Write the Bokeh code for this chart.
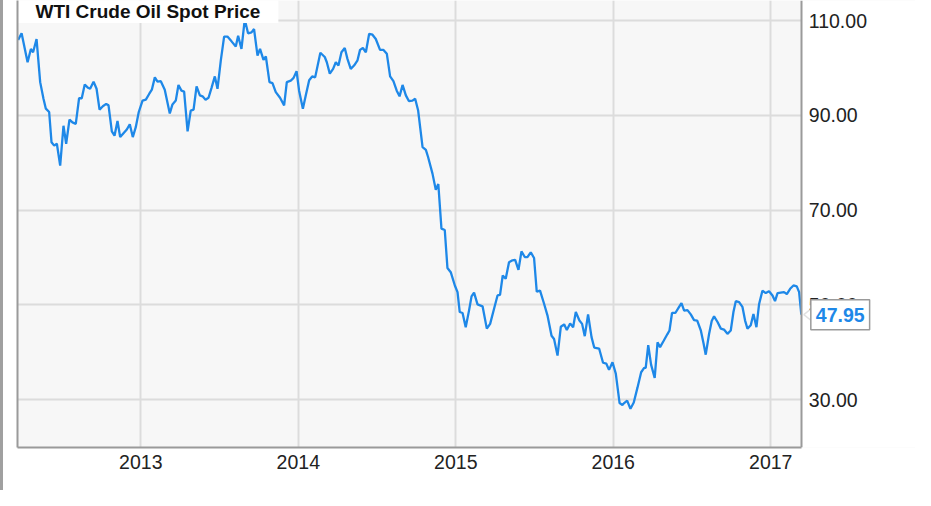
from bokeh.plotting import figure
from bokeh.models import (Range1d, LinearAxis, FixedTicker, NumeralTickFormatter, Label,
                          BoxAnnotation, PolyAnnotation)
from bokeh.embed import file_html
from bokeh.resources import INLINE

# Weekly WTI crude oil spot price (USD/bbl); x as decimal year
years = [
    2012.221, 2012.243, 2012.281, 2012.302, 2012.316, 2012.338, 2012.361, 2012.382, 2012.397, 2012.418,
    2012.433, 2012.450, 2012.467, 2012.488, 2012.509, 2012.526, 2012.547, 2012.566, 2012.587, 2012.608,
    2012.625, 2012.644, 2012.665, 2012.678, 2012.700, 2012.719, 2012.738, 2012.759, 2012.780, 2012.795,
    2012.816, 2012.833, 2012.852, 2012.869, 2012.890, 2012.911, 2012.930, 2012.949, 2012.968, 2012.987,
    2013.011, 2013.032, 2013.053, 2013.070, 2013.089, 2013.106, 2013.127, 2013.152, 2013.184, 2013.201,
    2013.222, 2013.239, 2013.258, 2013.275, 2013.297, 2013.317, 2013.335, 2013.354, 2013.375, 2013.392,
    2013.411, 2013.430, 2013.449, 2013.470, 2013.487, 2013.508, 2013.529, 2013.550, 2013.576, 2013.603,
    2013.618, 2013.639, 2013.660, 2013.681, 2013.703, 2013.719, 2013.741, 2013.757, 2013.779, 2013.794,
    2013.817, 2013.836, 2013.857, 2013.884, 2013.910, 2013.927, 2013.952, 2013.970, 2013.989, 2014.005,
    2014.029, 2014.048, 2014.069, 2014.088, 2014.107, 2014.140, 2014.168, 2014.181, 2014.200, 2014.221,
    2014.238, 2014.255, 2014.274, 2014.295, 2014.312, 2014.333, 2014.354, 2014.376, 2014.392, 2014.410,
    2014.429, 2014.450, 2014.471, 2014.492, 2014.519, 2014.541, 2014.562, 2014.583, 2014.604, 2014.625,
    2014.643, 2014.662, 2014.683, 2014.702, 2014.725, 2014.742, 2014.761, 2014.789, 2014.810, 2014.824,
    2014.852, 2014.873, 2014.889, 2014.909, 2014.930, 2014.947, 2014.968, 2014.994, 2015.011, 2015.025,
    2015.043, 2015.063, 2015.084, 2015.100, 2015.116, 2015.138, 2015.170, 2015.197, 2015.218, 2015.243,
    2015.265, 2015.281, 2015.298, 2015.317, 2015.338, 2015.360, 2015.377, 2015.398, 2015.417, 2015.438,
    2015.455, 2015.476, 2015.497, 2015.514, 2015.535, 2015.561, 2015.582, 2015.608, 2015.624, 2015.646,
    2015.667, 2015.688, 2015.705, 2015.726, 2015.745, 2015.762, 2015.785, 2015.802, 2015.819, 2015.840,
    2015.862, 2015.879, 2015.910, 2015.935, 2015.956, 2015.973, 2015.995, 2016.016, 2016.040, 2016.058,
    2016.069, 2016.088, 2016.109, 2016.130, 2016.154, 2016.177, 2016.196, 2016.206, 2016.222, 2016.240,
    2016.263, 2016.281, 2016.297, 2016.321, 2016.343, 2016.357, 2016.373, 2016.394, 2016.416, 2016.433,
    2016.450, 2016.471, 2016.492, 2016.513, 2016.533, 2016.556, 2016.573, 2016.587, 2016.608, 2016.625,
    2016.640, 2016.662, 2016.683, 2016.703, 2016.725, 2016.746, 2016.763, 2016.778, 2016.799, 2016.820,
    2016.837, 2016.852, 2016.873, 2016.890, 2016.909, 2016.926, 2016.947, 2016.968, 2016.989, 2017.011,
    2017.027, 2017.043, 2017.063, 2017.084, 2017.102, 2017.123, 2017.144, 2017.165, 2017.180, 2017.194,
]
price = [
    105.9, 107.3, 101.2, 104.0, 103.3, 106.1, 97.0, 93.5, 91.4, 90.7,
    84.3, 83.6, 84.0, 79.4, 87.8, 84.0, 89.1, 88.5, 88.2, 93.6,
    93.6, 96.5, 95.8, 95.6, 97.1, 95.6, 91.2, 91.9, 92.4, 92.1,
    86.6, 85.7, 88.8, 85.4, 86.2, 87.0, 88.1, 85.4, 87.5, 90.7,
    93.1, 93.3, 94.5, 95.4, 98.0, 97.1, 97.2, 95.4, 90.4, 92.3,
    93.1, 96.4, 95.2, 95.0, 86.6, 91.0, 91.2, 96.1, 94.2, 94.0,
    93.3, 93.7, 95.8, 98.2, 95.6, 101.6, 106.6, 106.6, 105.6, 104.5,
    106.8, 104.0, 110.2, 107.3, 107.5, 108.2, 102.6, 104.0, 101.7, 102.4,
    97.0, 96.8, 94.9, 93.7, 92.1, 97.0, 97.3, 97.9, 99.3, 95.2,
    91.4, 94.3, 97.4, 98.2, 98.0, 103.2, 102.3, 101.2, 98.8, 99.8,
    101.2, 100.5, 103.3, 104.2, 101.9, 99.8, 100.5, 101.6, 103.8, 104.2,
    103.3, 107.2, 107.0, 106.1, 103.8, 103.8, 103.0, 98.2, 97.2, 95.2,
    94.0, 96.4, 94.2, 93.0, 93.1, 93.5, 91.0, 83.3, 82.7, 81.2,
    77.7, 74.3, 75.5, 66.1, 65.8, 57.8, 56.9, 54.1, 52.7, 48.5,
    48.3, 45.3, 48.8, 51.8, 52.6, 50.1, 49.7, 45.0, 46.0, 49.2,
    52.0, 52.1, 56.2, 55.5, 59.0, 59.4, 59.5, 57.4, 61.3, 60.1,
    60.1, 61.1, 59.9, 52.8, 53.0, 50.2, 47.8, 43.5, 42.8, 39.3,
    45.4, 45.9, 44.7, 46.1, 45.3, 48.5, 46.7, 46.0, 43.4, 48.0,
    43.2, 41.0, 40.8, 37.8, 37.6, 36.3, 37.9, 35.5, 29.3, 28.9,
    29.3, 29.8, 28.1, 29.4, 32.6, 35.8, 36.7, 36.7, 41.5, 37.4,
    34.6, 42.1, 41.1, 42.5, 43.8, 44.6, 48.3, 48.3, 49.5, 50.4,
    48.8, 48.9, 48.0, 46.8, 46.7, 44.6, 41.9, 39.5, 43.8, 46.6,
    47.6, 46.4, 45.0, 44.8, 43.9, 44.6, 48.5, 50.8, 50.6, 49.6,
    46.7, 45.0, 45.7, 48.1, 45.3, 50.2, 53.0, 52.5, 52.9, 52.0,
    50.8, 52.5, 52.6, 52.7, 52.3, 53.4, 54.1, 53.9, 52.7, 47.95,
]
year_ticks = [2013, 2014, 2015, 2016, 2017]
year_labels = ["2013", "2014", "2015", "2016", "2017"]
price_ticks = [30, 50, 70, 90, 110]
title_text = "WTI Crude Oil Spot Price"

LINE = "#1e88e8"
FONT = "Liberation Sans"
BORDER = "#9a9a9a"

X0, X_END, X_VIEW = 2012.217, 2017.197, 2017.919   # data start, plot-area end, view end
Y0, Y1 = 19.92, 114.22

p = figure(width=915, height=490, output_backend="svg", toolbar_location=None,
           x_range=Range1d(X0, X_VIEW), y_range=Range1d(Y0, Y1),
           y_axis_location=None, min_border_left=17, min_border_right=0,
           min_border_top=0, min_border_bottom=43,
           styles={"background-color": "white", "box-shadow": "inset 3px 0 0 #a0a0a0"})
p.background_fill_color = "#f7f7f7"
p.border_fill_color = None
p.outline_line_color = None

# gridlines
p.xgrid.ticker = FixedTicker(ticks=year_ticks)
p.ygrid.ticker = FixedTicker(ticks=price_ticks)
for g in (p.xgrid[0], p.ygrid[0]):
    g.grid_line_color = "#dcdcdc"
    g.grid_line_width = 2

# white area right of the plot (axis-label zone)
p.add_layout(BoxAnnotation(left=X_END, fill_color="white", fill_alpha=1.0,
                           line_color=None, level="glyph"))

# bottom axis
xa = p.xaxis[0]
xa.ticker = FixedTicker(ticks=year_ticks)
xa.major_label_overrides = {t: l for t, l in zip(year_ticks, year_labels)}
xa.bounds = (X0, X_END)
xa.major_tick_out = 0
xa.major_tick_in = 0
xa.minor_tick_out = 0
xa.minor_tick_in = 0
xa.axis_line_color = BORDER
xa.axis_line_width = 2
xa.major_label_standoff = 7
xa.major_label_text_font = FONT
xa.major_label_text_font_size = "19.5px"
xa.major_label_text_color = "#222222"

# right price axis, fixed at the end of the plot area
ya = LinearAxis(fixed_location=X_END, ticker=FixedTicker(ticks=price_ticks),
                formatter=NumeralTickFormatter(format="0.00"),
                major_tick_out=0, major_tick_in=0, minor_tick_out=0, minor_tick_in=0,
                axis_line_color=BORDER, axis_line_width=2, major_label_standoff=7,
                major_label_text_font=FONT, major_label_text_font_size="19.5px",
                major_label_text_color="#222222")
p.add_layout(ya, "right")

# left border line
la = LinearAxis(ticker=FixedTicker(ticks=[]), major_tick_out=0, major_tick_in=0,
                minor_tick_out=0, minor_tick_in=0, major_label_text_font_size="0px",
                axis_line_color=BORDER, axis_line_width=2)
p.add_layout(la, "left")

p.line(years, price, line_color=LINE, line_width=2.3)

# title box at top-left of the plot
ttl = Label(x=X0, y=Y1, x_offset=0, y_offset=-11, text=title_text,
            text_font=FONT, text_font_size="19px", text_font_style="bold",
            text_color="#111111", text_baseline="middle", text_align="left",
            background_fill_color="white", padding=(18, 1), level="glyph")
p.add_layout(ttl)

# callout with the last value
lx, lv = years[-1], price[-1]
p.add_layout(PolyAnnotation(xs=[lx + 0.016, lx + 0.072, lx + 0.072],
                            ys=[lv, lv + 1.5, lv - 1.5],
                            fill_color="white", fill_alpha=1.0,
                            line_color=BORDER, line_width=1.5))
last = Label(x=lx, y=lv, x_offset=9.5, text=f"{lv:.2f}",
             text_font=FONT, text_font_size="19.5px", text_font_style="bold",
             text_color=LINE, text_baseline="middle", text_align="left",
             background_fill_color="white", border_line_color=BORDER,
             border_line_width=1.5, padding=(5, 8))
p.add_layout(last)

open("out.html", "w").write(file_html(p, INLINE))
